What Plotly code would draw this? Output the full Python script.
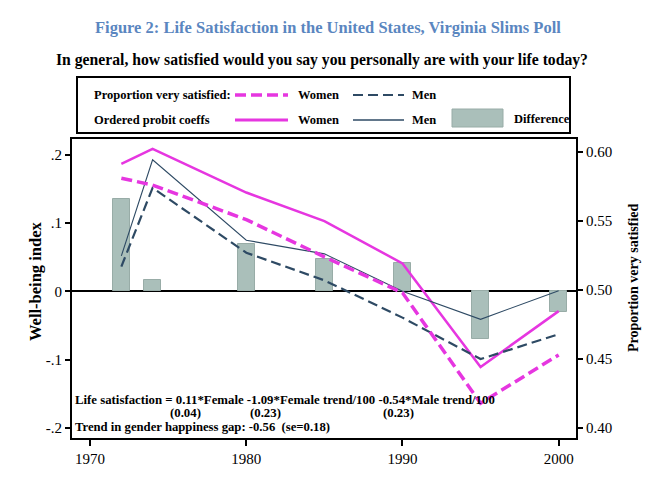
import plotly.graph_objects as go

# ---- data ----
years = [1972, 1974, 1980, 1985, 1990, 1995, 2000]
prop_women = [0.581, 0.576, 0.551, 0.524, 0.498, 0.418, 0.453]
prop_men = [0.517, 0.574, 0.527, 0.507, 0.480, 0.450, 0.468]
coef_women = [0.187, 0.209, 0.145, 0.103, 0.041, -0.111, -0.029]
coef_men = [0.052, 0.193, 0.075, 0.055, 0.000, -0.041, 0.001]
difference = [0.135, 0.016, 0.070, 0.048, 0.041, -0.070, -0.030]

x_ticks = [1970, 1980, 1990, 2000]
left_ticks = [-0.2, -0.1, 0, 0.1, 0.2]
left_tick_labels = ["-.2", "-.1", "0", ".1", ".2"]
right_ticks = [0.40, 0.45, 0.50, 0.55, 0.60]
right_tick_labels = ["0.40", "0.45", "0.50", "0.55", "0.60"]

# ---- style ----
MAG = "#e636e0"
NAVY = "#2e4a64"
BAR = "#aabfba"
BAR_LINE = "#98aca7"
FONT = "Liberation Serif"

W, H = 659, 485
L, R, T, B = 72, 576, 139, 438


def fx(px):
    return (px - L) / (R - L)


def fy(py):
    return (B - py) / (B - T)


fig = go.Figure()

fig.add_trace(go.Bar(x=years, y=difference, width=1.1, marker=dict(color=BAR, line=dict(color=BAR_LINE, width=1)),
                     yaxis="y", showlegend=False, name="Difference"))
fig.add_trace(go.Scatter(x=years, y=prop_men, mode="lines", yaxis="y2",
                         line=dict(color=NAVY, width=2.2, dash="10px,5px"), showlegend=False))
fig.add_trace(go.Scatter(x=years, y=prop_women, mode="lines", yaxis="y2",
                         line=dict(color=MAG, width=3.5, dash="11px,5px"), showlegend=False))
fig.add_trace(go.Scatter(x=years, y=coef_women, mode="lines", yaxis="y",
                         line=dict(color=MAG, width=2.5), showlegend=False))
fig.add_trace(go.Scatter(x=years, y=coef_men, mode="lines", yaxis="y",
                         line=dict(color=NAVY, width=1.1), showlegend=False))

tickfont = dict(family=FONT, size=15, color="black")

fig.update_layout(
    width=W, height=H,
    margin=dict(l=L, r=W - R, t=T, b=H - B, pad=0),
    paper_bgcolor="white", plot_bgcolor="white",
    font=dict(family=FONT, color="black"),
    xaxis=dict(range=[1968.84, 2001.11], tickvals=x_ticks, ticktext=[str(v) for v in x_ticks],
               showgrid=False, zeroline=False, showline=True, linecolor="black", linewidth=2,
               mirror=True, ticks="outside", ticklen=6, tickwidth=1.5, tickcolor="black",
               tickfont=tickfont),
    yaxis=dict(range=[-0.2151, 0.2235], tickvals=left_ticks, ticktext=left_tick_labels,
               showgrid=False, zeroline=True, zerolinecolor="black", zerolinewidth=2,
               showline=True, linecolor="black", linewidth=2,
               ticks="outside", ticklen=5, tickwidth=1.5, tickcolor="black", tickfont=tickfont),
    yaxis2=dict(range=[0.3928, 0.6094], tickvals=right_ticks, ticktext=right_tick_labels,
                overlaying="y", side="right", showgrid=False, zeroline=False,
                showline=True, linecolor="black", linewidth=2,
                ticks="outside", ticklen=5, tickwidth=1.5, tickcolor="black", tickfont=tickfont),
    bargap=0,
)

ann = []


def text(x, y, s, size, anchor="left", bold=True, color="black", angle=0, family=FONT):
    ann.append(dict(xref="paper", yref="paper", x=fx(x), y=fy(y), text=("<b>%s</b>" % s) if bold else s,
                    showarrow=False, xanchor=anchor, yanchor="middle", textangle=angle,
                    font=dict(family=family, size=size, color=color)))


# titles
text(328, 27, "Figure 2: Life Satisfaction in the United States, Virginia Slims Poll", 16.5, "center",
     color="#5a86c0")
text(322, 60, "In general, how satisfied would you say you personally are with your life today?", 15.7, "center")

# axis titles
text(35, 282, "Well-being index", 16.5, "center", angle=-90)
text(633, 278, "Proportion very satisfied", 14, "center", angle=-90)

# legend text
text(92, 95, "Proportion very satisfied:", 12.5)
text(296, 95, "Women", 12.5)
text(410, 95, "Men", 12.5)
text(92, 120, "Ordered probit coeffs", 12.5)
text(296, 120, "Women", 12.5)
text(410, 120, "Men", 12.5)
text(512, 119, "Difference", 12.5)

# in-plot regression text
text(73, 400, "Life satisfaction = 0.11*Female -1.09*Female trend/100 -0.54*Male trend/100", 12.8)
text(185, 413, "(0.04)", 12.8, "center")
text(265, 413, "(0.23)", 12.8, "center")
text(398, 413, "(0.23)", 12.8, "center")
text(73, 427, "Trend in gender happiness gap: -0.56  (se=0.18)", 12.7)

fig.update_layout(annotations=ann)

shapes = []
# legend box
shapes.append(dict(type="rect", xref="paper", yref="paper", x0=fx(77), x1=fx(570), y0=fy(133), y1=fy(77),
                   line=dict(color="black", width=2), fillcolor="white", layer="above"))
# legend keys
shapes.append(dict(type="line", xref="paper", yref="paper", x0=fx(235), x1=fx(288), y0=fy(95), y1=fy(95),
                   line=dict(color=MAG, width=3.5, dash="11px,5px")))
shapes.append(dict(type="line", xref="paper", yref="paper", x0=fx(353), x1=fx(404), y0=fy(95), y1=fy(95),
                   line=dict(color=NAVY, width=2, dash="10px,5px")))
shapes.append(dict(type="line", xref="paper", yref="paper", x0=fx(235), x1=fx(288), y0=fy(120), y1=fy(120),
                   line=dict(color=MAG, width=3)))
shapes.append(dict(type="line", xref="paper", yref="paper", x0=fx(353), x1=fx(404), y0=fy(120), y1=fy(120),
                   line=dict(color=NAVY, width=1.5)))
shapes.append(dict(type="rect", xref="paper", yref="paper", x0=fx(452), x1=fx(503), y0=fy(127), y1=fy(109),
                   line=dict(color=BAR_LINE, width=1), fillcolor=BAR))
fig.update_layout(shapes=shapes)

fig.write_html("out.html", config={"displayModeBar": False},
               post_script="document.body.style.margin='0';")
